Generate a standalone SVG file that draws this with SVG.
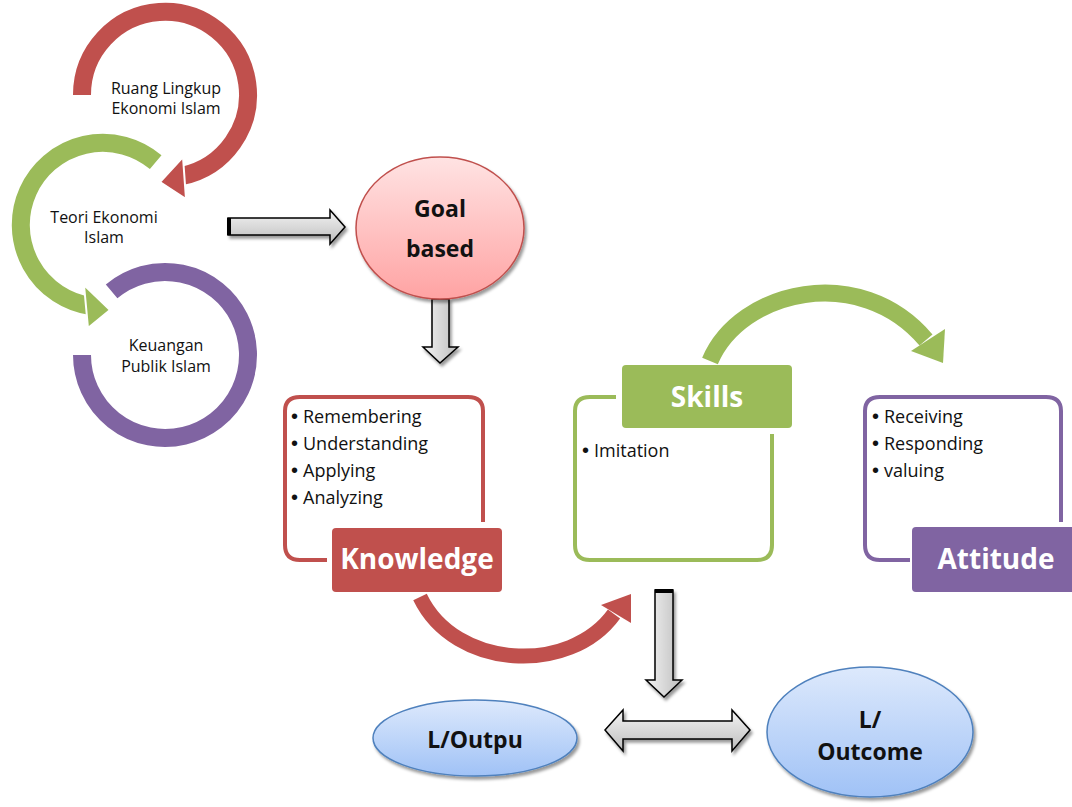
<svg xmlns="http://www.w3.org/2000/svg" width="1072" height="807" viewBox="0 0 1072 807">
<defs>
<style>
.t{font-family:"Open Sans",Lato,"Liberation Sans",sans-serif;fill:#111}
.sm{font-size:16px}
.bl{font-size:18px}
.bu{font-family:"Liberation Sans",sans-serif;font-size:20px;fill:#111}
.lab{font-size:28px;font-weight:bold;fill:#fff;text-anchor:middle}
.el{font-size:23px;font-weight:bold;text-anchor:middle}
.blk{fill:url(#gray);stroke:#000;stroke-width:1.5;filter:url(#sh)}
.red{stroke:#c0504d}.grn{stroke:#9bbb59}.pur{stroke:#8064a2}
.arc{fill:none;stroke-width:18}
.box{fill:none;stroke-width:4;stroke-linecap:butt}
</style>
<linearGradient id="gray" x1="0" y1="0" x2="0" y2="1"><stop offset="0" stop-color="#f4f4f4"/><stop offset="1" stop-color="#bdbdbd"/></linearGradient>
<linearGradient id="grayh" x1="0" y1="0" x2="1" y2="0"><stop offset="0" stop-color="#f4f4f4"/><stop offset="1" stop-color="#bdbdbd"/></linearGradient>
<linearGradient id="pink" x1="0" y1="0" x2="0" y2="1"><stop offset="0" stop-color="#ffe3e3"/><stop offset="1" stop-color="#ffa3a3"/></linearGradient>
<linearGradient id="blue" x1="0" y1="0" x2="0" y2="1"><stop offset="0" stop-color="#dde9fc"/><stop offset="1" stop-color="#a0c2f6"/></linearGradient>
<filter id="sh" x="-20%" y="-20%" width="150%" height="150%"><feDropShadow dx="2" dy="3" stdDeviation="1.5" flood-color="#000" flood-opacity="0.4"/></filter>
</defs>

<g id="cycle">
<path class="arc pur" d="M 82 355 A 83 83 0 1 0 111.6 291.4"/>
<g id="green-arc">
<path class="arc grn" d="M 155.7 162.2 A 82 82 0 1 0 91 306"/>
<polygon fill="#9bbb59" stroke="#fff" stroke-width="2" points="84,285 88,328 110,310"/>
</g>
<g id="red-arc">
<path class="arc red" d="M 82 95 A 83 83 0 1 1 182 176"/>
<polygon fill="#c0504d" stroke="#fff" stroke-width="2" points="183,157 186,199 160,182"/>
</g>
</g>

<g id="n-ruang"><text class="t sm" x="166" y="94" text-anchor="middle">Ruang Lingkup</text><text class="t sm" x="166" y="114" text-anchor="middle">Ekonomi Islam</text></g>
<g id="n-teori"><text class="t sm" x="104" y="223" text-anchor="middle">Teori Ekonomi</text><text class="t sm" x="104" y="243" text-anchor="middle">Islam</text></g>
<g id="n-keuangan"><text class="t sm" x="166" y="351" text-anchor="middle">Keuangan</text><text class="t sm" x="166" y="372" text-anchor="middle">Publik Islam</text></g>

<g id="connectors">
<g id="arrow-right">
<polygon class="blk" points="228,218 330,218 330,210 345,227 330,244 330,235 228,235"/>
<rect x="227" y="218" width="4" height="17" fill="#000"/>
</g>
<g id="arrow-goal-down">
<polygon class="blk" style="fill:url(#grayh)" points="432,299 449,299 449,347 458,347 440,363 423,347 432,347"/>
</g>
<g id="arrow-skills">
<path fill="none" stroke="#9bbb59" stroke-width="17" d="M 710 361 C 740 290, 860 262, 926 340"/>
<polygon fill="#9bbb59" points="911,351 945,329 943,363"/>
</g>
<g id="arrow-knowledge">
<path fill="none" stroke="#c0504d" stroke-width="15" d="M 420 597 C 455 670, 570 675, 614 614"/>
<polygon fill="#c0504d" points="601,605 631,594 631,623"/>
</g>
<g id="arrow-down">
<polygon class="blk" style="fill:url(#grayh)" points="655,590 673,590 673,680 682,680 664,697 646,680 655,680"/>
<rect x="655" y="589" width="18" height="4" fill="#000"/>
</g>
<g id="arrow-double">
<polygon class="blk" points="605,730 623,710 623,721 732,721 732,710 750,730 732,751 732,739 623,739 623,751"/>
</g>
</g>

<g id="n-goal">
<ellipse cx="440" cy="228" rx="84" ry="71" fill="url(#pink)" stroke="#c0504d" stroke-width="1.5" filter="url(#sh)"/>
<text class="t el" x="440" y="217">Goal</text>
<text class="t el" x="440" y="257">based</text>
</g>

<g id="n-knowledge">
<path class="box red" d="M 327 560 H 300 Q 285 560 285 545 V 411 Q 285 397 300 397 H 468 Q 483 397 483 411 V 522"/>
<rect x="332" y="528" width="170" height="64" rx="4" fill="#c0504d"/>
<text class="t lab" x="417" y="569">Knowledge</text>
<text class="bu" x="291" y="423">•</text><text class="t bl" x="303" y="423">Remembering</text>
<text class="bu" x="291" y="450">•</text><text class="t bl" x="303" y="450">Understanding</text>
<text class="bu" x="291" y="477">•</text><text class="t bl" x="303" y="477">Applying</text>
<text class="bu" x="291" y="504">•</text><text class="t bl" x="303" y="504">Analyzing</text>
</g>

<g id="n-skills">
<path class="box grn" d="M 616 397 H 590 Q 575 397 575 411 V 545 Q 575 560 590 560 H 757 Q 772 560 772 545 V 434"/>
<rect x="622" y="365" width="170" height="63" rx="4" fill="#9bbb59"/>
<text class="t lab" x="707" y="407">Skills</text>
<text class="bu" x="582" y="457">•</text><text class="t bl" x="594" y="457">Imitation</text>
</g>

<g id="n-attitude">
<path class="box pur" d="M 910 560 H 880 Q 865 560 865 545 V 411 Q 865 397 880 397 H 1046 Q 1061 397 1061 411 V 522"/>
<rect x="912" y="527" width="166" height="65" rx="4" fill="#8064a2"/>
<text class="t lab" x="996" y="569">Attitude</text>
<text class="bu" x="872" y="423">•</text><text class="t bl" x="884" y="423">Receiving</text>
<text class="bu" x="872" y="450">•</text><text class="t bl" x="884" y="450">Responding</text>
<text class="bu" x="872" y="477">•</text><text class="t bl" x="884" y="477">valuing</text>
</g>

<g id="n-output">
<ellipse cx="475" cy="738" rx="102" ry="38" fill="url(#blue)" stroke="#4f81bd" stroke-width="1.5" filter="url(#sh)"/>
<text class="t el" x="475" y="748">L/Outpu</text>
</g>

<g id="n-outcome">
<ellipse cx="870" cy="732" rx="103" ry="65" fill="url(#blue)" stroke="#4f81bd" stroke-width="1.5" filter="url(#sh)"/>
<text class="t el" x="870" y="728">L/</text>
<text class="t el" x="870" y="760">Outcome</text>
</g>
</svg>
